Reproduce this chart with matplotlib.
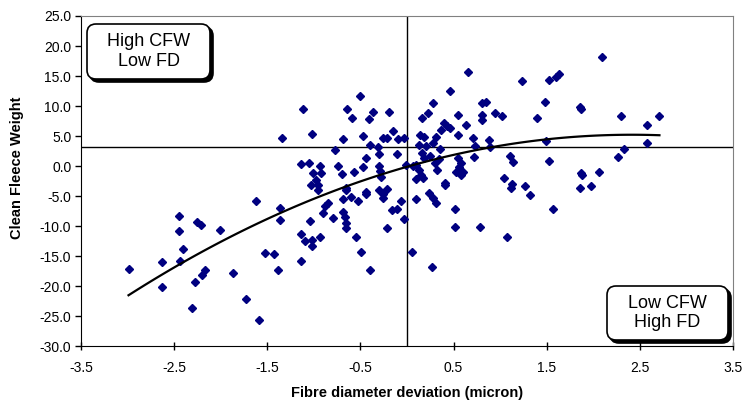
import numpy as np
import matplotlib.pyplot as plt
from matplotlib.patches import FancyBboxPatch

plt.rcParams['font.family'] = ['Liberation Sans', 'DejaVu Sans']

# fibre diameter deviation (micron) and clean fleece weight
fibre_dev = [
    -2.99, -2.63, -2.63, -2.45, -2.45, -2.40, -2.44, -2.26, -2.21, -2.17,
    -2.20, -2.28, -2.31, -2.01, -1.87, -1.73, -1.59, -1.62, -1.36, -1.36,
    -1.52, -1.43, -1.39, -1.14, -1.14, -1.09, -1.02, -1.02, -0.93, -1.04,
    -0.90, -0.85, -0.88, -0.79, -0.69, -0.67, -0.65, -0.65, -0.69, -0.60,
    -0.53, -0.66, -0.55, -0.49, -0.40, -0.44, -0.44, -0.30, -0.26, -0.21,
    -0.26, -0.22, -0.16, -0.11, -0.06, -0.03, 0.05, 0.10, 0.24, 0.28,
    0.31, 0.41, 0.52, 0.52, 0.78, 0.27, 1.07, 1.57, 1.32, 1.12,
    1.27, 1.86, 1.97,
    2.09, 1.23, 1.52, 1.60, 1.63, 0.85, 0.94, 1.02, 0.80, 0.81,
    1.48, 1.40, 1.86, 1.87, 2.30, 2.71, 2.58, 2.58, 2.33, 2.26,
    1.49, 0.88, 0.89, 1.11, 1.14, 1.52, 2.06, 1.87, 1.88, 1.04,
    1.13,
    -1.12, -1.34, -1.14, -1.02, -1.05, -0.50, -0.64, -0.59, -0.37, -0.41,
    -0.19, -0.69, -0.47, -0.15, -0.26, -0.21, -0.10, -0.03, -0.40, -0.31,
    -0.77, -0.30, -0.11, -0.44, -0.74, -0.47, -0.30, -0.29, -0.57, -0.70,
    -0.93, -1.01, -0.92, -0.98, -0.28, -1.03, -0.96, -0.96, -0.65, -0.01,
    0.06, 0.66, 0.46, 0.28, 0.23, 0.16, 0.40, 0.37, 0.46, 0.43,
    0.55, 0.63, 0.55, 0.71, 0.73, 0.72, 0.14, 0.18, 0.31, 0.13,
    0.20, 0.28, 0.35, 0.16, 0.25, 0.18, 0.10, 0.30, 0.55, 0.58,
    0.13, 0.32, 0.56, 0.60, 0.53, 0.58, 0.15, 0.10, 0.17, 0.41,
    0.81, 0.34,
]
clean_fleece = [
    -17.1, -16.0, -20.2, -8.3, -10.9, -13.8, -15.8, -9.3, -9.8, -17.3,
    -18.1, -19.4, -23.6, -10.7, -17.8, -22.2, -25.6, -5.8, -7.0, -9.0,
    -14.5, -14.7, -17.4, -11.4, -15.8, -12.5, -13.4, -12.3, -11.8, -9.1,
    -7.8, -6.2, -6.6, -8.6, -7.6, -8.55, -9.55, -10.4, -5.5, -5.1,
    -5.9, -4.0, -11.8, -14.3, -17.3, -4.3, -4.7, -4.0, -4.7, -3.8,
    -5.4, -10.4, -7.3, -7.2, -5.9, -8.9, -14.3, -5.55, -4.55, -5.4,
    -6.2, -3.2, -7.2, -10.2, -10.1, -16.9, -11.8, -7.2, -4.9, -3.7,
    -3.4, -3.7, -3.4,
    18.2, 14.2, 14.3, 14.9, 15.3, 10.7, 8.9, 8.4, 8.5, 7.7,
    10.7, 7.95, 9.9, 9.5, 8.4, 8.4, 6.8, 3.9, 2.8, 1.55,
    4.2, 4.3, 3.2, 1.7, 0.6, 0.9, -0.95, -1.1, -1.5, -2.05,
    -3.0,
    9.5, 4.6, 0.35, 5.3, 0.55, 11.7, 9.5, 7.95, 9.05, 7.8,
    9.05, 4.45, 5.0, 5.8, 4.7, 4.7, 4.45, 4.6, 3.5, 3.2,
    2.7, 2.0, 1.95, 1.3, 0.0, -0.2, 0.0, -0.8, -1.0, -1.4,
    0.0, -1.1, -1.1, -2.3, -1.8, -3.2, -3.2, -4.0, -3.7, 0.2,
    0.0, 15.7, 12.55, 10.45, 8.8, 7.95, 7.1, 6.0, 6.3, 6.6,
    8.5, 6.8, 5.2, 4.6, 3.3, 1.55, 5.2, 4.9, 4.9, 3.5,
    3.3, 3.8, 2.8, 2.1, 1.7, 1.3, 0.2, 0.55, 1.3, 0.45,
    -0.7, -0.7, -0.1, -0.95, -0.95, -1.5, -1.5, -2.2, -2.05, -2.9,
    10.45, 1.1,
]
cfw_ref = 3.2      # horizontal reference line
fd_ref = 0.0       # vertical reference line

x_ticks = [-3.5, -2.5, -1.5, -0.5, 0.5, 1.5, 2.5, 3.5]
y_ticks = np.arange(-30, 26, 5)

x = np.array(fibre_dev)
y = np.array(clean_fleece)

fig = plt.figure(figsize=(7.46, 4.03), dpi=100)
ax = fig.add_axes([0.1086, 0.1414, 0.874, 0.8189])

ax.axhline(cfw_ref, color='black', lw=1.0, zorder=1)
ax.axvline(fd_ref, color='black', lw=1.0, zorder=1)

ax.plot(x, y, ls='none', marker='D', ms=4.5, color='#000080', mec='#000080', zorder=3)

# polynomial trendline (order 2)
coef = np.polyfit(x, y, 2)
xs = np.linspace(x.min(), x.max(), 100)
ax.plot(xs, np.polyval(coef, xs), color='black', lw=1.6, zorder=4)

ax.set_xlim(-3.5, 3.5)
ax.set_ylim(-30, 25)
ax.set_xticks(x_ticks)
ax.set_xticklabels([f'{v:.1f}' for v in x_ticks])
ax.set_yticks(y_ticks)
ax.set_yticklabels([f'{v:.1f}' for v in y_ticks])
ax.tick_params(axis='x', direction='inout', length=6, width=1, labelsize=10, pad=8)
ax.tick_params(axis='y', direction='out', length=4, width=1, labelsize=10, pad=3)

for s in ['top', 'right']:
    ax.spines[s].set_color('#808080')
for s in ['left', 'bottom']:
    ax.spines[s].set_color('black')

ax.set_xlabel('Fibre diameter deviation (micron)', fontsize=10.5, fontweight='bold')
ax.set_ylabel('Clean Fleece Weight', fontsize=10.5, fontweight='bold')
ax.xaxis.set_label_coords(0.50, -0.12)
ax.yaxis.set_label_coords(-0.088, 0.54)

# quadrant labels: rounded boxes with a drop shadow (inches)
def quadrant_box(x0, y0, w, h, text):
    tr = fig.dpi_scale_trans
    sh = FancyBboxPatch((x0 + 0.03, y0 - 0.03), w, h,
                        boxstyle='round,pad=0,rounding_size=0.09',
                        transform=tr, fc='black', ec='black', lw=1.2, zorder=5)
    bx = FancyBboxPatch((x0, y0), w, h,
                        boxstyle='round,pad=0,rounding_size=0.09',
                        transform=tr, fc='white', ec='black', lw=1.2, zorder=6)
    fig.add_artist(sh)
    fig.add_artist(bx)
    fig.text(x0 + w / 2, y0 + h / 2, text, transform=tr, ha='center', va='center',
             fontsize=13, linespacing=1.2, zorder=7)

quadrant_box(0.87, 3.24, 1.23, 0.55, 'High CFW\nLow FD')
quadrant_box(6.07, 0.63, 1.21, 0.54, 'Low CFW\nHigh FD')

fig.savefig('out.png', dpi=100)
